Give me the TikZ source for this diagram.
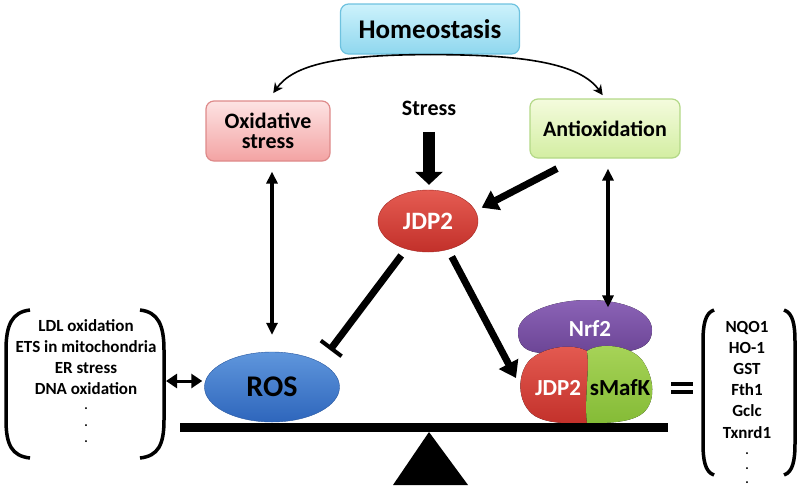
\documentclass[tikz,border=0pt]{standalone}
\usepackage{fontspec}
\setmainfont{Carlito}
\usetikzlibrary{arrows.meta,shapes.geometric}

\definecolor{homeA}{HTML}{CDF2FC}
\definecolor{homeB}{HTML}{8FD7EE}
\definecolor{homeC}{HTML}{6EC2DF}
\definecolor{oxiA}{HTML}{FDE3E3}
\definecolor{oxiB}{HTML}{F3A3A3}
\definecolor{oxiC}{HTML}{DE8A8A}
\definecolor{antiA}{HTML}{F4FBDD}
\definecolor{antiB}{HTML}{D3EEA2}
\definecolor{antiC}{HTML}{B3D887}
\definecolor{redA}{HTML}{E55C52}
\definecolor{redB}{HTML}{C2302A}
\definecolor{blueA}{HTML}{5F96DC}
\definecolor{blueB}{HTML}{2E66BC}
\definecolor{purpA}{HTML}{8B63B6}
\definecolor{purpB}{HTML}{6C4596}
\definecolor{grnA}{HTML}{A8D459}
\definecolor{grnB}{HTML}{84BB36}

\newcommand{\fsz}[1]{\fontsize{#1}{#1}\selectfont}

\begin{document}
\begin{tikzpicture}[x=1pt,y=-1pt,
  box/.style={draw,line width=1.2pt,rounded corners=8pt,align=center,inner sep=0pt},
  oval/.style={ellipse,inner sep=0pt},
  lab/.style={font=\bfseries\fsz{#1}},
  item/.style={font=\bfseries\fsz{17},anchor=base,inner sep=1pt},
  dotmark/.style={font=\bfseries\fsz{13},anchor=base,inner sep=0pt},
  arc/.style={line width=1.6pt,-{Stealth[length=10pt,width=10pt]}},
  fat/.style={line width=7pt,-{Triangle[length=16pt,width=21pt]}},
  bigarr/.style={line width=12pt,-{Triangle[length=13pt,width=27pt]}},
  inh/.style={line width=7pt,-{Bar[width=26pt,line width=4pt]}},
  dbl/.style={line width=4pt,{Triangle[length=12pt,width=11pt]}-{Triangle[length=12pt,width=11pt]}},
  dblh/.style={line width=3pt,{Triangle[length=11pt,width=14pt]}-{Triangle[length=11pt,width=14pt]}}]
\useasboundingbox (0,0) rectangle (800,491);

\node[box,top color=homeA,bottom color=homeB,draw=homeC,minimum width=179pt,minimum height=50pt,lab=27] (home) at (430,29) {Homeostasis};
\node[box,top color=oxiA,bottom color=oxiB,draw=oxiC,minimum width=124pt,minimum height=60pt,font=\bfseries\fontsize{22}{20}\selectfont] (oxi) at (268,131) {Oxidative\\stress};
\node[box,top color=antiA,bottom color=antiB,draw=antiC,minimum width=150pt,minimum height=59pt,lab=22] (anti) at (605,128.5) {Antioxidation};
\node[lab=22] (stress) at (429,108) {Stress};
\node[oval,top color=redA,bottom color=redB,draw=redB!85!black,minimum width=100pt,minimum height=62pt,text=white,lab=25] (jdp) at (428,221) {JDP2};
\node[oval,top color=blueA,bottom color=blueB,draw=blueB!85!black,minimum width=135pt,minimum height=70pt,lab=30] (ros) at (272,387) {ROS};

\fill[top color=purpA,bottom color=purpB] (518,332) .. controls (518,312) and (555,300) .. (588,300) .. controls (625,300) and (652,312) .. (652,330) .. controls (652,348) and (635,353) .. (600,353) -- (545,353) .. controls (525,353) and (518,345) .. (518,332) -- cycle;
\fill[top color=redA,bottom color=redB] (587,351) .. controls (570,342) and (540,348) .. (528,362) .. controls (516,378) and (518,405) .. (535,416) .. controls (550,425) and (575,423) .. (587,423) .. controls (584,400) and (590,370) .. (587,351) -- cycle;
\fill[top color=grnA,bottom color=grnB] (587,351) .. controls (600,342) and (630,345) .. (642,360) .. controls (655,378) and (656,402) .. (643,413) .. controls (630,424) and (600,423) .. (587,423) .. controls (584,400) and (590,370) .. (587,351) -- cycle;
\node[lab=23,text=white] (nrf) at (590,329) {Nrf2};
\node[lab=23,text=white] (cjdp) at (558,388) {JDP2};
\node[lab=23] (smaf) at (620,388) {sMafK};

\fill (180,423) rectangle (668,432);
\fill (429,432) -- (468,485) -- (393,485) -- cycle;

\draw[arc,shorten >=9pt] (home.south) .. controls +(-95,0) and +(25,-35) .. (oxi.north);
\draw[arc,shorten >=4pt] (home.south) .. controls +(95,0) and +(-25,-35) .. (anti.north);
\draw[bigarr,shorten <=13pt,shorten >=5pt] (stress.south) -- (stress.south |- jdp.north);
\draw[fat,shorten >=7pt] ([shift={(-48,10)}]anti.south) -- (jdp.12);
\coordinate (cplx) at (516,378);
\coordinate (rosinh) at (330,350);
\draw[inh,shorten <=8pt] (jdp.232) -- (rosinh);
\draw[fat,shorten <=8pt] (jdp.305) -- (cplx);
\draw[dbl,shorten <=10pt,shorten >=17pt] (oxi.south -| ros.north) -- (ros.north);
\draw[dbl,shorten <=10pt,shorten >=10pt] ([xshift=3pt]anti.south) -- ([xshift=3pt]anti.south |- nrf.north);
\coordinate (lbr) at (166,381);
\draw[dblh,shorten >=2pt] (lbr) -- (lbr -| ros.west);

\draw[line width=3.5pt] (30,310) .. controls (12,312) and (6,325) .. (6,350) -- (6,420) .. controls (6,445) and (12,456) .. (30,458);
\draw[line width=3.5pt] (140,310) .. controls (158,312) and (164,325) .. (164,350) -- (164,420) .. controls (164,445) and (158,456) .. (140,458);
\foreach \t [count=\i] in {LDL oxidation,ETS in mitochondria,ER stress,DNA oxidation}
  \node[item] (L\i) at (86,309.7+21.3*\i) {\t};
\foreach \i in {1,2,3}
  \node[dotmark] (Ld\i) at (86,393+16.5*\i) {.};

\draw[line width=4pt] (671,384) -- (693,384) (671,392) -- (693,392);

\draw[line width=3.5pt] (714,310) .. controls (705,313) and (703,325) .. (703,342) -- (703,443) .. controls (703,460) and (705,472) .. (714,475);
\draw[line width=3.5pt] (784,310) .. controls (793,313) and (795,325) .. (795,342) -- (795,443) .. controls (795,460) and (793,472) .. (784,475);
\foreach \t [count=\i] in {NQO1,HO-1,GST,Fth1,Gclc,Txnrd1}
  \node[item] (R\i) at (747,310.8+21.2*\i) {\t};
\foreach \i in {1,2,3}
  \node[dotmark] (Rd\i) at (747,440+14.5*\i) {.};
\end{tikzpicture}
\end{document}
